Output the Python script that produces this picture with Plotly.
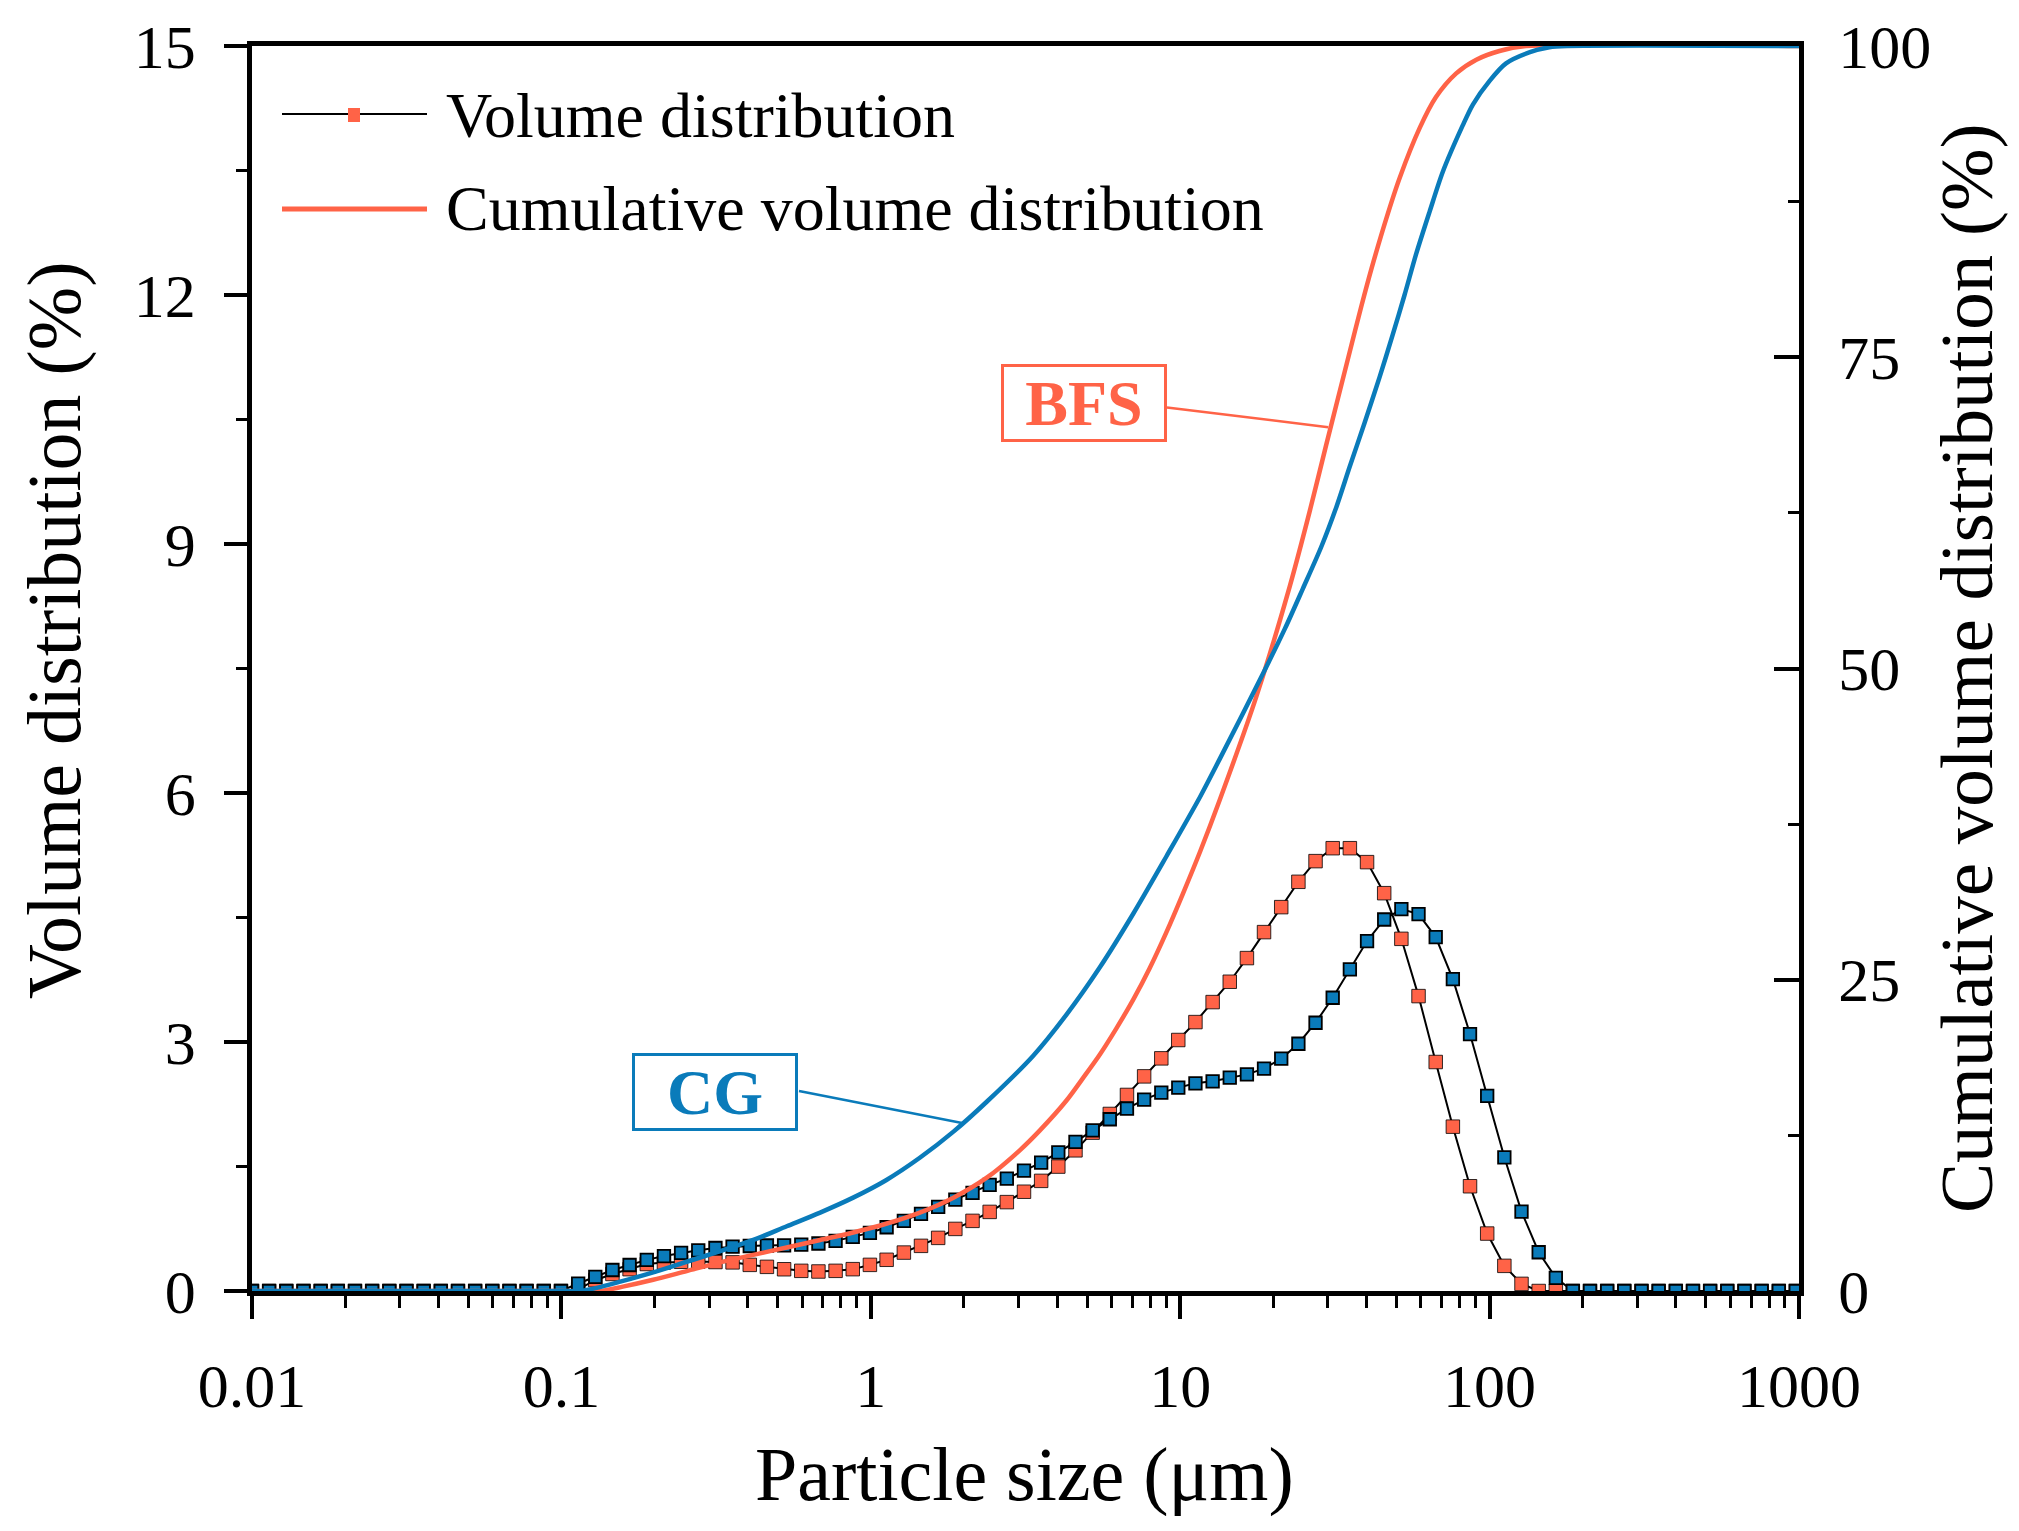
import plotly.graph_objects as go

# ---------------- data ----------------
# particle size classes (µm) of the laser diffraction instrument
size_um = [
    0.01, 0.01136, 0.01291, 0.01467, 0.01667, 0.01894, 0.02152, 0.02445, 0.02779, 0.03157,
    0.03587, 0.04076, 0.04632, 0.05263, 0.05980, 0.06794, 0.07720, 0.08772, 0.09967, 0.1133,
    0.1287, 0.1462, 0.1661, 0.1888, 0.2145, 0.2437, 0.2769, 0.3147, 0.3575, 0.4063,
    0.4616, 0.5245, 0.5960, 0.6772, 0.7694, 0.8743, 0.9934, 1.125, 1.279, 1.453,
    1.651, 1.876, 2.132, 2.422, 2.752, 3.127, 3.553, 4.037, 4.587, 5.212,
    5.922, 6.729, 7.646, 8.688, 9.858, 11.20, 12.73, 14.46, 16.43, 18.66,
    21.21, 24.10, 27.38, 31.11, 35.35, 40.17, 45.64, 51.86, 58.93, 66.96,
    76.08, 86.44, 98.22, 111.6, 126.8, 144.1, 163.7, 185.8, 211.1, 239.9,
    272.5, 309.7, 351.9, 399.8, 454.3, 516.2, 586.5, 666.4, 757.3, 860.4,
    976.5,
]

# volume distribution (%) – BFS
bfs_volume = [
    0, 0, 0, 0, 0, 0, 0, 0, 0, 0,
    0, 0, 0, 0, 0, 0, 0, 0, 0, 0.02,
    0.13, 0.205, 0.263, 0.325, 0.343, 0.352, 0.355, 0.349, 0.345, 0.315,
    0.291, 0.262, 0.243, 0.235, 0.243, 0.263, 0.315, 0.376, 0.463, 0.544,
    0.640, 0.748, 0.845, 0.953, 1.071, 1.196, 1.327, 1.499, 1.695, 1.908,
    2.133, 2.362, 2.586, 2.803, 3.024, 3.240, 3.481, 3.726, 4.011, 4.324,
    4.625, 4.930, 5.179, 5.335, 5.335, 5.167, 4.793, 4.243, 3.553, 2.759,
    1.980, 1.262, 0.692, 0.303, 0.086, 0, 0, 0, 0, 0,
    0, 0, 0, 0, 0, 0, 0, 0, 0, 0,
    0,
]

# volume distribution (%) – CG
cg_volume = [
    0, 0, 0, 0, 0, 0, 0, 0, 0, 0,
    0, 0, 0, 0, 0, 0, 0, 0, 0, 0.090,
    0.171, 0.253, 0.313, 0.375, 0.421, 0.460, 0.490, 0.518, 0.534, 0.542,
    0.548, 0.550, 0.558, 0.572, 0.604, 0.652, 0.700, 0.768, 0.845, 0.929,
    1.014, 1.101, 1.182, 1.278, 1.354, 1.450, 1.547, 1.671, 1.796, 1.936,
    2.069, 2.197, 2.305, 2.390, 2.450, 2.502, 2.526, 2.570, 2.610, 2.679,
    2.799, 2.979, 3.232, 3.533, 3.874, 4.216, 4.476, 4.601, 4.541, 4.264,
    3.758, 3.096, 2.350, 1.611, 0.957, 0.467, 0.159, 0, 0, 0,
    0, 0, 0, 0, 0, 0, 0, 0, 0, 0,
    0,
]

# cumulative volume distribution (%) – BFS
bfs_cum_size = [0.01, 0.1, 0.133, 0.158, 0.198, 0.254, 0.326, 0.417, 0.535, 0.686,
                0.877, 1.12, 1.44, 1.85, 2.37, 3.03, 3.52, 4.29, 4.85, 5.50,
                6.22, 7.05, 7.96, 9.02, 10.2, 11.6, 13.4, 17.6, 22.6, 26.2,
                29.6, 35.7, 38.5, 41.5, 46.3, 51.2, 59.4, 67.1, 78.0, 90.6,
                107.6, 131.2, 1000]
bfs_cum = [0, 0, 0, 0.35, 0.9, 1.6, 2.3, 2.9, 3.5, 4.1,
           4.7, 5.4, 6.3, 7.5, 9.1, 11.3, 12.9, 15.3, 17.1, 19.0,
           21.1, 23.4, 25.9, 28.8, 31.9, 35.3, 39.4, 47.7, 56.6, 62.6,
           67.9, 75.9, 79.1, 82.1, 86.1, 89.4, 93.4, 95.9, 97.8, 98.9,
           99.6, 100, 100]

# cumulative volume distribution (%) – CG
cg_cum_size = [0.01, 0.1, 0.115, 0.130, 0.155, 0.198, 0.254, 0.326, 0.417, 0.535,
               0.686, 0.877, 1.12, 1.44, 1.85, 2.37, 3.35, 4.29, 5.50, 7.05,
               9.02, 11.6, 13.4, 18.7, 21.8, 24.9, 28.6, 32.0, 35.3, 39.4,
               44.1, 48.6, 53.1, 57.9, 64.0, 70.6, 81.8, 88.3, 100, 113,
               135, 156, 178, 1000]
cg_cum = [0, 0, 0, 0.25, 0.75, 1.5, 2.35, 3.2, 4.1, 5.2,
          6.3, 7.5, 8.9, 10.7, 12.8, 15.2, 18.9, 22.2, 26.0, 30.3,
          34.9, 39.7, 42.7, 49.8, 53.2, 56.4, 59.8, 63.0, 66.2, 69.7,
          73.4, 76.8, 80.0, 83.3, 86.7, 89.9, 93.6, 95.3, 97.2, 98.6,
          99.5, 99.9, 100, 100]

x_tick_vals = [0.01, 0.1, 1, 10, 100, 1000]
x_tick_text = ["0.01", "0.1", "1", "10", "100", "1000"]

legend_labels = ["Volume distribution", "Cumulative volume distribution"]
sample_labels = ["BFS", "CG"]

# ---------------- style ----------------
ORANGE = "#FF6347"
BLUE = "#0A7BBA"
FONT = "Liberation Serif"
W, H = 2019, 1531
L, R, T, B = 252, 220, 46, 240
PW, PH = W - L - R, H - T - B


def px(xp):
    return (xp - L) / PW


def py(yp):
    return (H - B - yp) / PH


fig = go.Figure()

fig.add_trace(go.Scatter(
    x=size_um, y=bfs_volume, mode="lines+markers", name="BFS volume",
    line=dict(color="black", width=2),
    marker=dict(symbol="square", size=13.5, color=ORANGE, line=dict(color="black", width=0.8)),
    showlegend=False, yaxis="y"))
fig.add_trace(go.Scatter(
    x=size_um, y=cg_volume, mode="lines+markers", name="CG volume",
    line=dict(color="black", width=2),
    marker=dict(symbol="square", size=12.5, color=BLUE, line=dict(color="black", width=1.8)),
    showlegend=False, yaxis="y"))
fig.add_trace(go.Scatter(
    x=bfs_cum_size, y=bfs_cum, mode="lines", name="BFS cumulative",
    line=dict(color=ORANGE, width=4.5, shape="spline", smoothing=0.8),
    showlegend=False, yaxis="y2"))
fig.add_trace(go.Scatter(
    x=cg_cum_size, y=cg_cum, mode="lines", name="CG cumulative",
    line=dict(color=BLUE, width=4.5, shape="spline", smoothing=0.8),
    showlegend=False, yaxis="y2"))

minor_x = [m * 10 ** e for e in range(-2, 3) for m in range(2, 10)]

axis_common = dict(showgrid=False, zeroline=False, showline=True, linecolor="black",
                   linewidth=4.5, tickcolor="black", tickwidth=3.5,
                   tickfont=dict(family=FONT, size=62, color="black"))

fig.update_layout(
    width=W, height=H,
    margin=dict(l=L, r=R, t=T, b=B, pad=0),
    paper_bgcolor="white", plot_bgcolor="white",
    font=dict(family=FONT, color="black"),
    showlegend=False,
    xaxis=dict(type="log", range=[-2, 3], tickvals=x_tick_vals, ticktext=x_tick_text,
               ticks="outside", ticklen=23, mirror=True, ticklabelstandoff=14,
               minor=dict(tickvals=minor_x, ticks="outside", ticklen=12,
                          tickwidth=3, tickcolor="black"),
               **axis_common),
    yaxis=dict(range=[0, 15], dtick=3, tick0=0, ticks="outside", ticklen=23,
               ticklabelstandoff=16,
               minor=dict(dtick=1.5, ticks="outside", ticklen=11, tickwidth=3,
                          tickcolor="black"),
               **axis_common),
    yaxis2=dict(range=[0, 100], dtick=25, tick0=0, overlaying="y", side="right",
                ticks="inside", ticklen=25, ticklabelstandoff=22,
                minor=dict(dtick=12.5, ticks="inside", ticklen=11, tickwidth=3,
                           tickcolor="black"),
                **axis_common),
)

shapes = []
annotations = []

# custom legend
shapes.append(dict(type="line", xref="paper", yref="paper",
                   x0=px(282), x1=px(427), y0=py(114), y1=py(114),
                   line=dict(color="black", width=2.2)))
shapes.append(dict(type="rect", xref="paper", yref="paper",
                   x0=px(348), x1=px(360), y0=py(122), y1=py(108),
                   fillcolor=ORANGE, line=dict(width=0)))
shapes.append(dict(type="line", xref="paper", yref="paper",
                   x0=px(282), x1=px(427), y0=py(209), y1=py(209),
                   line=dict(color=ORANGE, width=5)))
annotations.append(dict(text=legend_labels[0], xref="paper", yref="paper",
                        x=px(444), y=py(115.4), xanchor="left", yanchor="middle",
                        showarrow=False, font=dict(family=FONT, size=64, color="black")))
annotations.append(dict(text=legend_labels[1], xref="paper", yref="paper",
                        x=px(444), y=py(208.4), xanchor="left", yanchor="middle",
                        showarrow=False, font=dict(family=FONT, size=64, color="black")))

# sample label boxes with leader lines
annotations.append(dict(text="<b>%s</b>" % sample_labels[0], xref="paper", yref="paper",
                        x=px(1083.5), y=py(402.5), xanchor="center", yanchor="middle",
                        showarrow=False, width=160, height=72, borderpad=0,
                        bordercolor=ORANGE, borderwidth=3, bgcolor="white",
                        font=dict(family=FONT, size=64, color=ORANGE)))
annotations.append(dict(text="<b>%s</b>" % sample_labels[1], xref="paper", yref="paper",
                        x=px(715), y=py(1091.5), xanchor="center", yanchor="middle",
                        showarrow=False, width=160, height=72, borderpad=0,
                        bordercolor=BLUE, borderwidth=3, bgcolor="white",
                        font=dict(family=FONT, size=64, color=BLUE)))
shapes.append(dict(type="line", xref="paper", yref="paper",
                   x0=px(1167), y0=py(407.4), x1=px(1328.3), y1=py(427.2),
                   line=dict(color=ORANGE, width=2.5)))
shapes.append(dict(type="line", xref="paper", yref="paper",
                   x0=px(799), y0=py(1091), x1=px(963.3), y1=py(1123.3),
                   line=dict(color=BLUE, width=2.5)))

# axis titles
annotations.append(dict(text="Particle size (μm)", xref="paper", yref="paper",
                        x=px(1024), y=py(1474), xanchor="center", yanchor="middle",
                        showarrow=False, font=dict(family=FONT, size=76, color="black")))
annotations.append(dict(text="Volume distribution (%)", xref="paper", yref="paper",
                        x=px(54), y=py(631), xanchor="center", yanchor="middle",
                        textangle=-90, showarrow=False,
                        font=dict(family=FONT, size=76, color="black")))
annotations.append(dict(text="Cumulative volume distribution (%)", xref="paper", yref="paper",
                        x=px(1966), y=py(669), xanchor="center", yanchor="middle",
                        textangle=-90, showarrow=False,
                        font=dict(family=FONT, size=75, color="black")))

fig.update_layout(shapes=shapes, annotations=annotations)

fig.write_html("out.html", config={"displayModeBar": False},
               post_script="document.body.style.margin='0px';document.body.style.overflow='hidden';")
